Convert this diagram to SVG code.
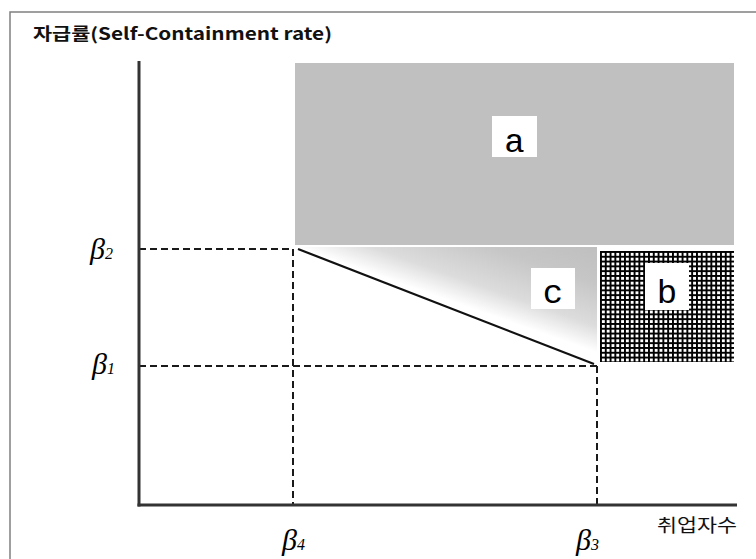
<svg xmlns="http://www.w3.org/2000/svg" width="756" height="559" viewBox="0 0 756 559">
<style>
.axis{stroke:#333;stroke-width:3;fill:none}
.dash{stroke:#1a1a1a;stroke-width:2;stroke-dasharray:7 4;fill:none}
.lbl{font-family:"Liberation Mono",monospace;font-size:34px;fill:#000;text-anchor:middle}
.beta{font-family:"Liberation Serif",serif;font-style:italic;fill:#000}
.kr{font-family:"Noto Sans CJK KR","Noto Sans",sans-serif;fill:#111}
.box{fill:#fff}
</style>
<defs>
<pattern id="grid" x="600" y="251" width="4.8" height="4.8" patternUnits="userSpaceOnUse">
<rect width="4.8" height="4.8" fill="#fff"/>
<rect width="4.8" height="1.9" fill="#000"/>
<rect width="1.9" height="4.8" fill="#000"/>
</pattern>
<linearGradient id="gc" gradientUnits="userSpaceOnUse" x1="564" y1="341" x2="597" y2="247">
<stop offset="0" stop-color="#ffffff"/>
<stop offset="0.25" stop-color="#dcdcdc"/>
<stop offset="0.65" stop-color="#c6c6c6"/>
<stop offset="1" stop-color="#bfbfbf"/>
</linearGradient>
</defs>
<rect x="0" y="0" width="756" height="559" fill="#fff"/>
<rect x="10" y="12" width="760" height="560" fill="none" stroke="#808080" stroke-width="1.5"/>
<text class="kr" x="33" y="40" font-size="17" font-weight="bold" textLength="299" lengthAdjust="spacingAndGlyphs">자급률(Self-Containment rate)</text>

<g id="region-a">
<rect x="295" y="63" width="439" height="182" fill="#c0c0c0"/>
<rect class="box" x="492" y="116" width="45" height="41"/>
<text class="lbl" x="514.5" y="152">a</text>
</g>
<g id="region-c">
<polygon points="295,247 597,247 597,353" fill="url(#gc)"/>
<rect class="box" x="531" y="268" width="44" height="41"/>
<text class="lbl" x="553" y="303">c</text>
</g>
<g id="region-b">
<rect x="600" y="251" width="134" height="111" fill="url(#grid)"/>
<rect class="box" x="645" y="263" width="44" height="47"/>
<text class="lbl" x="667" y="303">b</text>
</g>

<g id="connectors">
<line class="dash" x1="139" y1="249" x2="293" y2="249"/>
<line class="dash" x1="293" y1="249" x2="293" y2="505"/>
<line class="dash" x1="139" y1="366" x2="597" y2="366"/>
<line class="dash" x1="597" y1="366" x2="597" y2="505"/>
<line x1="298" y1="249" x2="594" y2="364" stroke="#111" stroke-width="2.2"/>
</g>

<g id="axes">
<line class="axis" x1="139" y1="61" x2="139" y2="506.5"/>
<line class="axis" x1="137.5" y1="505" x2="737" y2="505"/>
</g>

<g id="labels">
<text class="beta" x="90" y="259" font-size="30">β<tspan font-size="16">2</tspan></text>
<text class="beta" x="92" y="374" font-size="30">β<tspan font-size="16">1</tspan></text>
<text class="beta" x="282" y="550" font-size="30">β<tspan font-size="16">4</tspan></text>
<text class="beta" x="576" y="550" font-size="30">β<tspan font-size="16">3</tspan></text>
<text class="kr" x="657" y="532" font-size="18" textLength="80" lengthAdjust="spacingAndGlyphs">취업자수</text>
</g>
</svg>
